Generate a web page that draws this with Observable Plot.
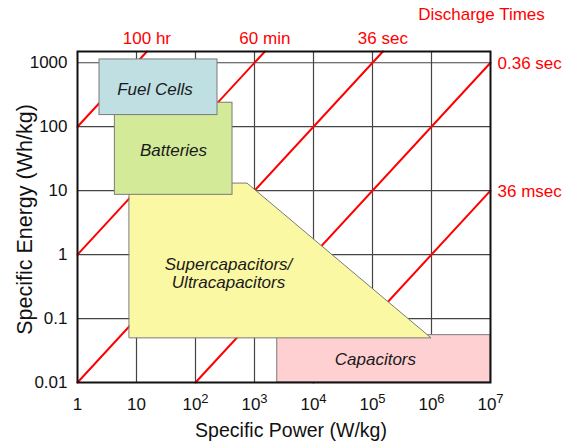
<!DOCTYPE html>
<html>
<head>
<meta charset="utf-8">
<script src="https://cdn.jsdelivr.net/npm/d3@7"></script>
<script src="https://cdn.jsdelivr.net/npm/@observablehq/plot@0.6"></script>
<style>
  html, body { margin: 0; padding: 0; background: #fff; }
  #chart { width: 564px; height: 446px; }
</style>
</head>
<body>
<div id="chart"></div>
<script>
// ---- data ----
const xTicks = [1, 10, 100, 1e3, 1e4, 1e5, 1e6, 1e7];
const xTickLabels = ["1", "10", "10^2", "10^3", "10^4", "10^5", "10^6", "10^7"];
const yTicks = [0.01, 0.1, 1, 10, 100, 1000];
const yTickLabels = ["0.01", "0.1", "1", "10", "100", "1000"];

// rectangular regions
const rectNames = ["Capacitors", "Batteries", "Fuel Cells"];
const rectPowerMin = [2430, 4.3, 2.36];
const rectPowerMax = [1e7, 424, 236];
const rectEnergyMin = [0.01, 8.6, 152];
const rectEnergyMax = [0.055, 237, 1127];
const rectFill = ["#ffd0d2", "#d3ea99", "#bfdfe3"];

// supercapacitor polygon (top outline), bottom edge at superBottom
const superPower = [7.7, 760, 1e6];
const superEnergyTop = [12.9, 12.9, 0.049];
const superBottom = 0.049;

// region labels
const labelNames = ["Fuel Cells", "Batteries", "Supercapacitors/\nUltracapacitors", "Capacitors"];
const labelPower = [20.6, 42.4, 363, 1.12e5];
const labelEnergy = [393, 42.6, 0.514, 0.0232];

// discharge time lines: E = P * hours
const dischargeLabels = ["100 hr", "60 min", "36 sec", "0.36 sec", "36 msec"];
const dischargeHours = [100, 1, 0.01, 1e-4, 1e-6];
const dischargeSide = ["top", "top", "top", "right", "right"];

const xDomain = [1, 1e7];
const yDomain = [0.01, 1500];

// ---- derived tables ----
const rects = rectNames.map((n, i) => ({name: n, x1: rectPowerMin[i], x2: rectPowerMax[i], y1: rectEnergyMin[i], y2: rectEnergyMax[i], fill: rectFill[i]}));
const superPoly = superPower.map((p, i) => ({x: p, y1: superBottom, y2: superEnergyTop[i]}));
const lines = [];
dischargeHours.forEach((t, i) => {
  const p0 = Math.max(xDomain[0], yDomain[0] / t);
  const p1 = Math.min(xDomain[1], yDomain[1] / t);
  lines.push({k: i, x: p0, y: p0 * t});
  lines.push({k: i, x: p1, y: p1 * t});
});
const topLabels = dischargeLabels.map((l, i) => ({l, x: yDomain[1] / dischargeHours[i], y: yDomain[1]})).filter((d, i) => dischargeSide[i] === "top");
const rightLabels = dischargeLabels.map((l, i) => ({l, x: xDomain[1], y: xDomain[1] * dischargeHours[i]})).filter((d, i) => dischargeSide[i] === "right");
const regionLabels = labelNames.map((n, i) => ({n, x: labelPower[i], y: labelEnergy[i]}));

const font = "'Liberation Sans', Arial, sans-serif";
const red = "#ff0000";
const edge = "#7a7a7a";

const chart = Plot.plot({
  width: 564,
  height: 446,
  marginLeft: 77,
  marginRight: 74,
  marginTop: 51,
  marginBottom: 64,
  style: {fontFamily: font, fontSize: "16px", background: "#fff", color: "#111"},
  x: {type: "log", domain: xDomain},
  y: {type: "log", domain: yDomain},
  marks: [
    Plot.ruleX(xTicks.slice(1, -1), {stroke: "#444", strokeWidth: 1.2}),
    Plot.ruleY(yTicks.slice(1), {stroke: "#444", strokeWidth: 1.2}),
    Plot.line(lines, {x: "x", y: "y", z: "k", stroke: red, strokeWidth: 2}),
    Plot.rect(rects.slice(0, 1), {x1: "x1", x2: "x2", y1: "y1", y2: "y2", fill: "fill", stroke: edge, strokeWidth: 1}),
    Plot.areaY(superPoly, {x: "x", y1: "y1", y2: "y2", fill: "#faf8a2", stroke: edge, strokeWidth: 1}),
    Plot.rect(rects.slice(1), {x1: "x1", x2: "x2", y1: "y1", y2: "y2", fill: "fill", stroke: edge, strokeWidth: 1}),
    Plot.text(regionLabels, {x: "x", y: "y", text: "n", fontSize: 17, fontStyle: "italic", fill: "#1a1a1a", lineHeight: 1.1}),
    Plot.text(topLabels, {x: "x", y: "y", text: "l", fill: red, fontSize: 17, dy: -13, lineAnchor: "middle"}),
    Plot.text(rightLabels, {x: "x", y: "y", text: "l", fill: red, fontSize: 17, dx: 7, dy: 1, textAnchor: "start"}),
    Plot.text(["Discharge Times"], {frameAnchor: "top-right", text: d => d, fill: red, fontSize: 17, dx: -9, dy: -37, textAnchor: "middle", lineAnchor: "middle"}),
    Plot.text(["Specific Power (W/kg)"], {frameAnchor: "bottom", text: d => d, fill: "#111", fontSize: 19.5, dx: 7, dy: 48, textAnchor: "middle", lineAnchor: "middle"}),
    Plot.text(["Specific Energy (Wh/kg)"], {frameAnchor: "left", text: d => d, fill: "#111", fontSize: 21.5, dx: -52, dy: 2.5, rotate: -90, textAnchor: "middle", lineAnchor: "middle"}),
    Plot.frame({stroke: "#111", strokeWidth: 2}),
    Plot.axisX({ticks: xTicks, tickFormat: (d) => xTickLabels[xTicks.indexOf(d)], tickSize: 0, tickPadding: 15, fontSize: 17, label: null}),
    Plot.axisY({ticks: yTicks, tickFormat: (d) => yTickLabels[yTicks.indexOf(d)], tickSize: 0, tickPadding: 10, fontSize: 17, label: null})
  ]
});

document.getElementById("chart").appendChild(chart);

// render superscript exponents in x tick labels
d3.select(chart).selectAll("text").each(function() {
  const el = d3.select(this);
  const t = el.text();
  const m = /^10\^(\d+)$/.exec(t);
  if (m) {
    el.text(null);
    el.append("tspan").text("10");
    el.append("tspan").attr("font-size", 13).attr("dy", -6.5).text(m[1]);
  }
});
</script>
</body>
</html>
